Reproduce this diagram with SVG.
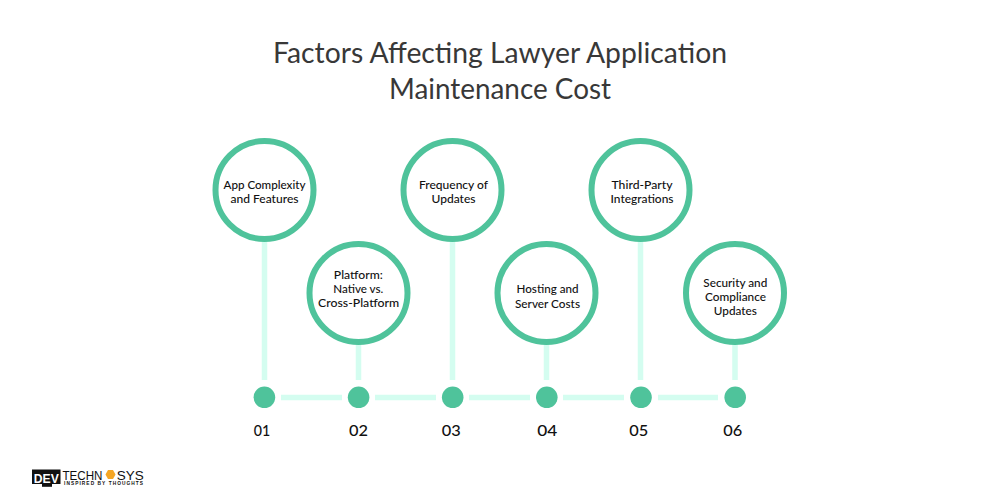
<svg xmlns="http://www.w3.org/2000/svg" width="1000" height="500" viewBox="0 0 1000 500">
<style>
text{font-family:"Lato","Liberation Sans",sans-serif;text-anchor:middle;fill:#111}
.t{font-size:29px;fill:#383838;font-weight:400}
.l{font-size:11.500px;font-weight:500}
.n{font-size:15.500px;font-weight:500}
.r{fill:#fff;stroke:#4fc39b;stroke-width:6}
.d{fill:#4fc39b}
.c{stroke:#d4fdf0;stroke-width:5.500;fill:none}
.g{font-family:"Liberation Sans",sans-serif;font-weight:700}
</style>
<rect width="1000" height="500" fill="#fff"/>
<g id="title">
<text class="t" x="500" y="63" textLength="454" lengthAdjust="spacingAndGlyphs">Factors Affecting Lawyer Application</text>
<text class="t" x="500" y="99" textLength="222" lengthAdjust="spacingAndGlyphs">Maintenance Cost</text>
</g>
<g id="connectors">
<path class="c" d="M264.500 240V380M358.500 343V380M452.500 240V380M546.500 343V380M640.500 240V380M735 343V380"/>
<path class="c" d="M281 397.500H342M375 397.500H436M469 397.500H530M563 397.500H624M658 397.500H718"/>
</g>
<g id="node1"><circle class="r" cx="264.500" cy="190" r="49"/>
<text class="l" x="264.500" y="189" textLength="82" lengthAdjust="spacingAndGlyphs">App Complexity</text><text class="l" x="264.500" y="203" textLength="68" lengthAdjust="spacingAndGlyphs">and Features</text></g>
<g id="node2"><circle class="r" cx="358.500" cy="293" r="49"/>
<text class="l" x="358.300" y="279" textLength="49" lengthAdjust="spacingAndGlyphs">Platform:</text><text class="l" x="358.300" y="293" textLength="50" lengthAdjust="spacingAndGlyphs">Native vs.</text><text class="l" x="358.600" y="307" textLength="81" lengthAdjust="spacingAndGlyphs">Cross-Platform</text></g>
<g id="node3"><circle class="r" cx="452.500" cy="190" r="49"/>
<text class="l" x="453.500" y="189" textLength="69" lengthAdjust="spacingAndGlyphs">Frequency of</text><text class="l" x="453.500" y="203" textLength="44" lengthAdjust="spacingAndGlyphs">Updates</text></g>
<g id="node4"><circle class="r" cx="546.500" cy="293" r="49"/>
<text class="l" x="547.500" y="293" textLength="62" lengthAdjust="spacingAndGlyphs">Hosting and</text><text class="l" x="547.500" y="308" textLength="65" lengthAdjust="spacingAndGlyphs">Server Costs</text></g>
<g id="node5"><circle class="r" cx="640.500" cy="190" r="49"/>
<text class="l" x="642" y="189" textLength="61" lengthAdjust="spacingAndGlyphs">Third-Party</text><text class="l" x="642" y="203" textLength="63" lengthAdjust="spacingAndGlyphs">Integrations</text></g>
<g id="node6"><circle class="r" cx="735" cy="293" r="49"/>
<text class="l" x="735.300" y="286.500" textLength="64" lengthAdjust="spacingAndGlyphs">Security and</text><text class="l" x="735.500" y="301" textLength="61" lengthAdjust="spacingAndGlyphs">Compliance</text><text class="l" x="735.300" y="315" textLength="43" lengthAdjust="spacingAndGlyphs">Updates</text></g>
<g id="dot1"><circle class="d" cx="264.400" cy="397.300" r="10.800"/><text class="n" x="262" y="435.500" textLength="16.500" lengthAdjust="spacingAndGlyphs">01</text></g>
<g id="dot2"><circle class="d" cx="358.600" cy="397.300" r="10.800"/><text class="n" x="358.500" y="435.500" textLength="19" lengthAdjust="spacingAndGlyphs">02</text></g>
<g id="dot3"><circle class="d" cx="452.700" cy="397.300" r="10.800"/><text class="n" x="451.200" y="435.500" textLength="19" lengthAdjust="spacingAndGlyphs">03</text></g>
<g id="dot4"><circle class="d" cx="546.800" cy="397.300" r="10.800"/><text class="n" x="547.300" y="435.500" textLength="20" lengthAdjust="spacingAndGlyphs">04</text></g>
<g id="dot5"><circle class="d" cx="641" cy="397.300" r="10.800"/><text class="n" x="638.700" y="435.500" textLength="19" lengthAdjust="spacingAndGlyphs">05</text></g>
<g id="dot6"><circle class="d" cx="735.200" cy="397.300" r="10.800"/><text class="n" x="732.800" y="435.500" textLength="19" lengthAdjust="spacingAndGlyphs">06</text></g>
<g id="logo">
<rect x="32" y="469.500" width="28.500" height="14.500" fill="#111"/>
<rect x="42" y="484" width="10" height="2.800" fill="#111"/>
<text class="g" x="46.300" y="482.500" style="font-size:13.500px;fill:#fff" textLength="25" lengthAdjust="spacingAndGlyphs">DEV</text>
<text x="82.500" y="479.500" style="font-size:13.500px;font-family:'Liberation Sans',sans-serif" textLength="40" lengthAdjust="spacingAndGlyphs">TECHN</text>
<polygon points="105.500,474.500 108,470 113,470 115.500,474.500 113,479 108,479" fill="#f5a623"/>
<text x="130.300" y="479.500" style="font-size:13.500px;font-family:'Liberation Sans',sans-serif" textLength="27" lengthAdjust="spacingAndGlyphs">SYS</text>
<text class="g" x="103.500" y="484.500" style="font-size:4.800px" textLength="79" lengthAdjust="spacing">INSPIRED BY THOUGHTS</text>
</g>
</svg>
